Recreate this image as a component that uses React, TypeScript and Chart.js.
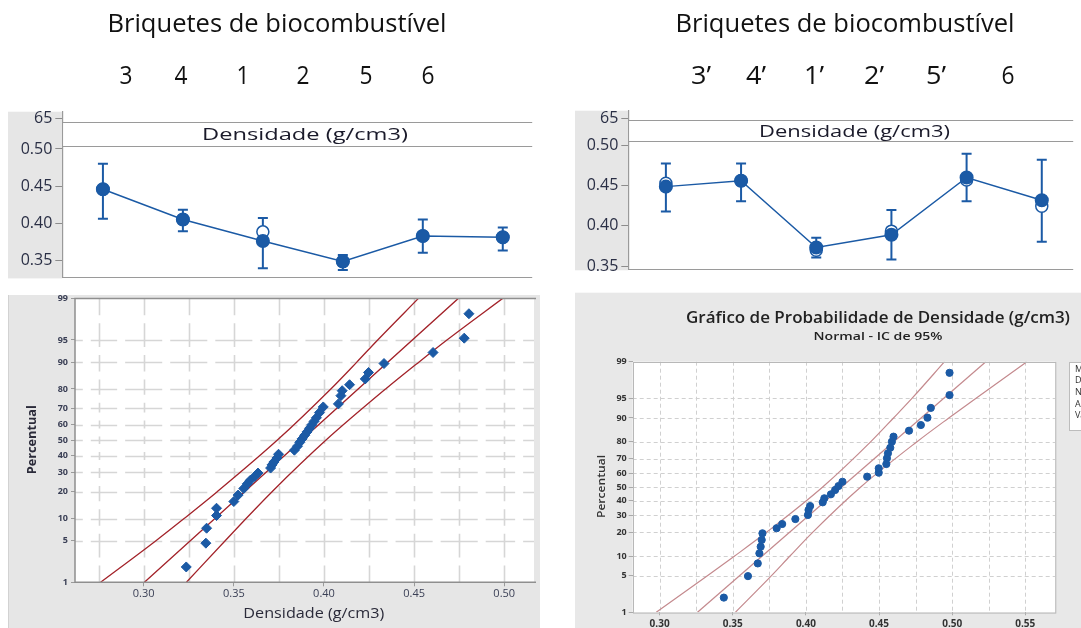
import React, { useEffect, useRef } from "react";
import { Chart, registerables } from "chart.js";
Chart.register(...registerables);

// ---------------- data ----------------
const pageTitle = "Briquetes de biocombustível";
const leftCategories = ["3", "4", "1", "2", "5", "6"];
const rightCategories = ["3’", "4’", "1’", "2’", "5’", "6"];
const intervalHeader = "Densidade (g/cm3)";
const intervalTicks = [0.35, 0.4, 0.45, 0.5];
const intervalTopTickLabel = "65";

const leftMeans = [0.4456, 0.4049, 0.376, 0.3483, 0.3826, 0.3809];
const leftOpen = [0.4456, 0.4049, 0.3883, 0.3483, 0.3826, 0.3809];
const leftLower = [0.4058, 0.389, 0.3391, 0.337, 0.36, 0.363];
const leftUpper = [0.4801, 0.4182, 0.407, 0.357, 0.405, 0.3943];

const rightMeans = [0.4488, 0.4562, 0.373, 0.3889, 0.4602, 0.4319];
const rightOpen = [0.453, 0.4562, 0.3697, 0.3934, 0.457, 0.4244];
const rightLower = [0.4177, 0.4305, 0.3607, 0.3582, 0.4305, 0.3803];
const rightUpper = [0.4775, 0.4775, 0.3852, 0.4198, 0.4898, 0.4824];

const percentTicks = [1, 5, 10, 20, 30, 40, 50, 60, 70, 80, 90, 95, 99];
const probXTitle = "Densidade (g/cm3)";
const probYTitle = "Percentual";

const probLeftXTicks = [0.3, 0.35, 0.4, 0.45, 0.5];
const probLeftDensity = [
  0.3236, 0.3345, 0.3349, 0.3404, 0.3404, 0.35, 0.3524, 0.3555, 0.3575, 0.3591,
  0.3617, 0.3634, 0.3704, 0.3712, 0.3722, 0.3739, 0.3748, 0.3836, 0.3853, 0.3866,
  0.3879, 0.3893, 0.3906, 0.392, 0.3932, 0.3945, 0.3958, 0.3975, 0.3996, 0.408,
  0.4094, 0.4101, 0.4142, 0.4229, 0.4247, 0.4333, 0.4605, 0.4778, 0.4804,
];
const probLeftPercent = [
  1.9, 4.6, 7.5, 10.9, 13.3, 15.8, 18.5, 21.5, 23.8, 25.6,
  27.8, 29.6, 32.5, 34.4, 36.1, 38.6, 41.0, 43.6, 46.2, 48.7,
  51.0, 53.3, 55.5, 57.8, 60.0, 62.2, 64.4, 67.5, 70.8, 72.5,
  76.8, 79.2, 81.9, 84.3, 86.7, 89.6, 92.5, 95.3, 98.1,
];
const probLeftFitDensity = [0.3004, 0.4745];
const probLeftFitPercent = [1, 99];
const probBandPercent = [1, 5, 10, 20, 50, 80, 90, 95, 99];
const probLeftUpperBand = [0.2761, 0.3068, 0.3224, 0.3408, 0.374, 0.4038, 0.4182, 0.4298, 0.4524];
const probLeftLowerBand = [0.3237, 0.3452, 0.3568, 0.3712, 0.401, 0.4342, 0.4526, 0.4682, 0.4991];

const probRightTitle = "Gráfico de Probabilidade de Densidade (g/cm3)";
const probRightSubtitle = "Normal - IC de 95%";
const probRightLegend = ["Média", "DesvPad", "N", "AD", "Valor-P"];
const probRightXTicks = [0.3, 0.35, 0.4, 0.45, 0.5, 0.55];
const probRightDensity = [
  0.3439, 0.3604, 0.3671, 0.3682, 0.3691, 0.3698, 0.3703, 0.38, 0.3838, 0.3928,
  0.4014, 0.4018, 0.4029, 0.4115, 0.4126, 0.4171, 0.42, 0.4223, 0.425, 0.4419,
  0.4498, 0.4498, 0.455, 0.4554, 0.4561, 0.4577, 0.4588, 0.4599, 0.4705, 0.4786,
  0.4831, 0.4854, 0.4982, 0.4982,
];
const probRightPercent = [
  2.0, 4.9, 7.8, 10.9, 13.4, 16.3, 19.5, 22.2, 24.6, 27.6,
  30.2, 33.5, 36.2, 38.8, 41.7, 44.6, 47.8, 50.7, 53.9, 57.6,
  60.5, 63.6, 66.5, 70.3, 73.4, 76.7, 80.0, 82.5, 85.2, 87.5,
  90.1, 92.9, 95.6, 98.3,
];
const probRightFitDensity = [0.3259, 0.523];
const probRightFitPercent = [1, 99];
const probRightUpperBand = [0.2977, 0.3329, 0.3513, 0.373, 0.4115, 0.4444, 0.4599, 0.4725, 0.4948];
const probRightLowerBand = [0.3518, 0.3765, 0.3891, 0.4046, 0.4375, 0.476, 0.4977, 0.5161, 0.5511];

// ---------------- helpers ----------------
const BLUE = "#1b5aa5";
const FONT = "'Open Sans', 'DejaVu Sans', sans-serif";

function probit(p: number): number {
  const a = [-39.69683028665376, 220.9460984245205, -275.9285104469687, 138.357751867269, -30.66479806614716, 2.506628277459239];
  const b = [-54.47609879822406, 161.5858368580409, -155.6989798598866, 66.80131188771972, -13.28068155288572];
  const c = [-0.007784894002430293, -0.3223964580411365, -2.400758277161838, -2.549671350024838, 4.374664141464968, 2.938163982698783];
  const d = [0.007784695709041462, 0.3224671290700398, 2.445134137142996, 3.754408661907416];
  const plow = 0.02425;
  if (p < plow) {
    const q = Math.sqrt(-2 * Math.log(p));
    return (((((c[0] * q + c[1]) * q + c[2]) * q + c[3]) * q + c[4]) * q + c[5]) / ((((d[0] * q + d[1]) * q + d[2]) * q + d[3]) * q + 1);
  }
  if (p > 1 - plow) {
    const q = Math.sqrt(-2 * Math.log(1 - p));
    return -(((((c[0] * q + c[1]) * q + c[2]) * q + c[3]) * q + c[4]) * q + c[5]) / ((((d[0] * q + d[1]) * q + d[2]) * q + d[3]) * q + 1);
  }
  const q = p - 0.5;
  const r = q * q;
  return ((((((a[0] * r + a[1]) * r + a[2]) * r + a[3]) * r + a[4]) * r + a[5]) * q) / (((((b[0] * r + b[1]) * r + b[2]) * r + b[3]) * r + b[4]) * r + 1);
}
const z = (pct: number) => probit(pct / 100);

function fitText(ctx: CanvasRenderingContext2D, text: string, cx: number, cy: number, targetW: number, font: string, color: string, rotate = false) {
  ctx.save();
  ctx.font = font;
  ctx.fillStyle = color;
  ctx.textAlign = "center";
  ctx.textBaseline = "middle";
  const w = ctx.measureText(text).width || 1;
  ctx.translate(cx, cy);
  if (rotate) ctx.rotate(-Math.PI / 2);
  ctx.scale(targetW / w, 1);
  ctx.fillText(text, 0, 0);
  ctx.restore();
}

// ---------------- interval (top) charts ----------------
interface IntervalOpts {
  categories: string[];
  catX: number[];
  means: number[];
  open: number[];
  lower: number[];
  upper: number[];
  xMin: number;
  xMax: number;
  yMin: number;
  yMax: number;
  topTick: number;
  bandTop: number;
  bandBottom: number;
  stripLeft: number;
  axisWidth: number;
  chartTop: number;
  bottomPad: number;
  headerX: number;
  headerW: number;
  titleX: number;
}

function intervalConfig(o: IntervalOpts): any {
  const plugin = {
    id: "intervalDeco",
    beforeDraw(chart: any) {
      const { ctx, chartArea } = chart;
      ctx.save();
      ctx.fillStyle = "#e6e6e6";
      ctx.fillRect(o.stripLeft, chartArea.top, chartArea.left - o.stripLeft, chartArea.bottom - chartArea.top + 1);
      ctx.restore();
      fitText(ctx, pageTitle, o.titleX, 25, 339, `26px ${FONT}`, "#111");
      o.categories.forEach((c, i) => {
        fitText(ctx, c, o.catX[i], 77, c.length > 1 ? 20 : 13, `26px ${FONT}`, "#111");
      });
    },
    beforeDatasetsDraw(chart: any) {
      const { ctx, scales } = chart;
      const x = scales.x;
      const y = scales.y;
      ctx.save();
      ctx.strokeStyle = BLUE;
      ctx.lineWidth = 2;
      o.means.forEach((_, i) => {
        const px = x.getPixelForValue(i);
        const yl = y.getPixelForValue(o.lower[i]);
        const yu = y.getPixelForValue(o.upper[i]);
        ctx.beginPath();
        ctx.moveTo(px, yl);
        ctx.lineTo(px, yu);
        ctx.moveTo(px - 5, yl);
        ctx.lineTo(px + 5, yl);
        ctx.moveTo(px - 5, yu);
        ctx.lineTo(px + 5, yu);
        ctx.stroke();
      });
      ctx.restore();
    },
    afterDraw(chart: any) {
      const { ctx, chartArea, scales } = chart;
      const y = scales.y;
      const yt = Math.round(y.getPixelForValue(o.bandTop)) + 0.5;
      const yb = Math.round(y.getPixelForValue(o.bandBottom)) + 0.5;
      ctx.save();
      ctx.fillStyle = "#ffffff";
      ctx.fillRect(chartArea.left + 1, yt, chartArea.right - chartArea.left, yb - yt);
      ctx.strokeStyle = "#9a9a9a";
      ctx.lineWidth = 1.2;
      ctx.beginPath();
      ctx.moveTo(chartArea.left, yt);
      ctx.lineTo(chartArea.right, yt);
      ctx.moveTo(chartArea.left, yb);
      ctx.lineTo(chartArea.right, yb);
      ctx.moveTo(chartArea.left, Math.round(chartArea.bottom) + 0.5);
      ctx.lineTo(chartArea.right, Math.round(chartArea.bottom) + 0.5);
      ctx.stroke();
      ctx.restore();
      fitText(ctx, intervalHeader, o.headerX, (yt + yb) / 2 + 1, o.headerW, `500 17px ${FONT}`, "#1a1a2a");
    },
  };

  return {
    type: "scatter",
    data: {
      datasets: [
        {
          data: o.means.map((v, i) => ({ x: i, y: v })),
          showLine: true,
          borderColor: BLUE,
          borderWidth: 1.5,
          pointRadius: 6.3,
          pointBackgroundColor: BLUE,
          pointBorderColor: BLUE,
          order: 0,
        },
        {
          data: o.open.map((v, i) => ({ x: i, y: v })),
          showLine: false,
          pointRadius: 6,
          pointBackgroundColor: "#ffffff",
          pointBorderColor: BLUE,
          pointBorderWidth: 1.5,
          order: 1,
        },
      ],
    },
    options: {
      responsive: false,
      animation: false,
      devicePixelRatio: 1,
      layout: { padding: { left: o.stripLeft, top: o.chartTop, right: 0, bottom: o.bottomPad } },
      plugins: { legend: { display: false }, tooltip: { enabled: false }, title: { display: false } },
      scales: {
        x: { type: "linear", min: o.xMin, max: o.xMax, display: false },
        y: {
          type: "linear",
          min: o.yMin,
          max: o.yMax,
          afterBuildTicks: (s: any) => {
            s.ticks = [...intervalTicks, o.topTick].map((v) => ({ value: v }));
          },
          afterFit: (s: any) => {
            s.width = o.axisWidth;
          },
          ticks: {
            autoSkip: false,
            padding: 3,
            color: "#2a2f45",
            font: { family: FONT, size: 16 },
            callback: (v: number) => (Math.abs(v - o.topTick) < 1e-6 ? intervalTopTickLabel : v.toFixed(2)),
          },
          grid: { drawOnChartArea: false, drawTicks: true, tickLength: 7, color: "#8c8c8c" },
          border: { display: true, color: "#9a9a9a", width: 1.2 },
        },
      },
    },
    plugins: [plugin],
  };
}

// ---------------- probability (bottom) charts ----------------
function bandDataset(xs: number[], pcts: number[], color: string, width: number): any {
  return {
    data: xs.map((v, i) => ({ x: v, y: z(pcts[i]) })),
    showLine: true,
    pointRadius: 0,
    borderColor: color,
    borderWidth: width,
    cubicInterpolationMode: "monotone",
    order: 1,
  };
}

function probLeftConfig(): any {
  const plugin = {
    id: "probLeftDeco",
    beforeDraw(chart: any) {
      const { ctx, chartArea, width, height } = chart;
      ctx.save();
      ctx.fillStyle = "#e6e6e6";
      ctx.fillRect(8, 5, width - 8, height - 5);
      ctx.fillStyle = "#d2d2d2";
      ctx.fillRect(8, 5, 1, height - 5);
      ctx.fillStyle = "#ffffff";
      ctx.fillRect(chartArea.left, chartArea.top, chartArea.right - chartArea.left, chartArea.bottom - chartArea.top);
      const xs: number[] = [];
      for (let v = 0.275; v <= 0.5001; v += 0.025) xs.push(chart.scales.x.getPixelForValue(v));
      const ys = percentTicks.slice(1, -1).map((p) => chart.scales.y.getPixelForValue(z(p)));
      const gap = 4;
      ctx.strokeStyle = "#d6d6d6";
      ctx.lineWidth = 1.6;
      ctx.beginPath();
      const yb = [chartArea.top, ...ys.slice().sort((a, b) => a - b), chartArea.bottom];
      const yMid = [chartArea.top];
      for (let i = 0; i < yb.length - 1; i++) yMid.push((yb[i] + yb[i + 1]) / 2);
      yMid.push(chartArea.bottom);
      xs.forEach((px) => {
        for (let i = 0; i < yMid.length - 1; i++) {
          const a = yMid[i] + (i === 0 ? 0 : gap);
          const b = yMid[i + 1] - (i === yMid.length - 2 ? 0 : gap);
          if (b > a) {
            ctx.moveTo(Math.round(px) + 0.5, a);
            ctx.lineTo(Math.round(px) + 0.5, b);
          }
        }
      });
      const xb = [chartArea.left, ...xs, chartArea.right];
      const xMid = [chartArea.left];
      for (let i = 0; i < xb.length - 1; i++) xMid.push((xb[i] + xb[i + 1]) / 2);
      xMid.push(chartArea.right);
      ys.forEach((py) => {
        for (let i = 0; i < xMid.length - 1; i++) {
          const a = xMid[i] + (i === 0 ? 0 : gap);
          const b = xMid[i + 1] - (i === xMid.length - 2 ? 0 : gap);
          if (b > a) {
            ctx.moveTo(a, Math.round(py) + 0.5);
            ctx.lineTo(b, Math.round(py) + 0.5);
          }
        }
      });
      ctx.stroke();
      ctx.restore();
    },
    afterDraw(chart: any) {
      const { ctx, chartArea } = chart;
      ctx.save();
      ctx.strokeStyle = "#8f8f8f";
      ctx.lineWidth = 1.5;
      ctx.beginPath();
      ctx.moveTo(chartArea.right + 2, chartArea.top);
      ctx.lineTo(chartArea.left, chartArea.top);
      ctx.lineTo(chartArea.left, chartArea.bottom);
      ctx.lineTo(chartArea.right + 2, chartArea.bottom);
      ctx.stroke();
      ctx.restore();
      fitText(ctx, probXTitle, 313.8, 324, 141, `500 14px ${FONT}`, "#2b2b3a");
      fitText(ctx, probYTitle, 33, 149.7, 69, `bold 12px ${FONT}`, "#2b2b3a", true);
    },
  };
  const red = "#a3232a";
  return {
    type: "scatter",
    data: {
      datasets: [
        {
          data: probLeftDensity.map((v, i) => ({ x: v, y: z(probLeftPercent[i]) })),
          showLine: false,
          pointStyle: "rectRot",
          pointRadius: 5,
          pointBackgroundColor: BLUE,
          pointBorderColor: BLUE,
          order: 0,
        },
        bandDataset(probLeftFitDensity, probLeftFitPercent, red, 1.3),
        bandDataset(probLeftUpperBand, probBandPercent, red, 1.3),
        bandDataset(probLeftLowerBand, probBandPercent, red, 1.3),
      ],
    },
    options: {
      responsive: false,
      animation: false,
      devicePixelRatio: 1,
      layout: { padding: { left: 8, top: 7.5, right: 0, bottom: 0 } },
      plugins: { legend: { display: false }, tooltip: { enabled: false }, title: { display: false } },
      scales: {
        x: {
          type: "linear",
          min: 0.2619,
          max: 0.5165,
          afterBuildTicks: (s: any) => {
            s.ticks = probLeftXTicks.map((v) => ({ value: v }));
          },
          afterFit: (s: any) => {
            s.height = 45.7;
          },
          ticks: { autoSkip: false, maxRotation: 0, padding: 1, color: "#3a3f55", font: { family: FONT, size: 11 }, callback: (v: number) => v.toFixed(2) },
          grid: { drawOnChartArea: false, drawTicks: true, tickLength: 4, color: "#9a9a9a" },
          border: { display: false },
        },
        y: {
          type: "linear",
          min: z(1),
          max: z(99),
          afterBuildTicks: (s: any) => {
            s.ticks = percentTicks.map((p) => ({ value: z(p) }));
          },
          afterFit: (s: any) => {
            s.width = 67;
          },
          ticks: { autoSkip: false, padding: 3, color: "#3a3f55", font: { family: FONT, size: 9, weight: "bold" }, callback: (_v: number, i: number) => String(percentTicks[i]) },
          grid: { drawOnChartArea: false, drawTicks: true, tickLength: 4, color: "#9a9a9a" },
          border: { display: false },
        },
      },
    },
    plugins: [plugin],
  };
}

function probRightConfig(): any {
  const plugin = {
    id: "probRightDeco",
    beforeDraw(chart: any) {
      const { ctx, chartArea, width, height } = chart;
      ctx.save();
      ctx.fillStyle = "#e8e8e8";
      ctx.fillRect(35, 2.7, width - 35, height);
      ctx.fillStyle = "#ffffff";
      ctx.fillRect(chartArea.left, chartArea.top, chartArea.right - chartArea.left, chartArea.bottom - chartArea.top);
      ctx.strokeStyle = "#d0d0d0";
      ctx.lineWidth = 1;
      ctx.setLineDash([4, 3]);
      ctx.beginPath();
      for (let v = 0.3; v <= 0.5501; v += 0.025) {
        const px = Math.round(chart.scales.x.getPixelForValue(v)) + 0.5;
        ctx.moveTo(px, chartArea.top);
        ctx.lineTo(px, chartArea.bottom);
      }
      percentTicks.slice(1, -1).forEach((p) => {
        const py = Math.round(chart.scales.y.getPixelForValue(z(p))) + 0.5;
        ctx.moveTo(chartArea.left, py);
        ctx.lineTo(chartArea.right, py);
      });
      ctx.stroke();
      ctx.restore();
    },
    afterDraw(chart: any) {
      const { ctx, chartArea } = chart;
      ctx.save();
      ctx.strokeStyle = "#b8b8b8";
      ctx.lineWidth = 1;
      ctx.strokeRect(Math.round(chartArea.left) + 0.5, Math.round(chartArea.top) + 0.5, chartArea.right - chartArea.left, chartArea.bottom - chartArea.top);
      ctx.fillStyle = "#ffffff";
      ctx.fillRect(529.5, 72, 30, 68);
      ctx.strokeStyle = "#bcbcbc";
      ctx.strokeRect(529.5, 72.5, 30, 68);
      ctx.fillStyle = "#333";
      ctx.font = `9px ${FONT}`;
      ctx.textAlign = "left";
      ctx.textBaseline = "middle";
      probRightLegend.forEach((t, i) => ctx.fillText(t, 535, 79 + i * 11.7));
      ctx.restore();
      fitText(ctx, probRightTitle, 338, 28.3, 384, `600 16px ${FONT}`, "#222");
      fitText(ctx, probRightSubtitle, 338, 46.7, 129, `600 11px ${FONT}`, "#222");
      fitText(ctx, probYTitle, 61.7, 196.5, 63, `600 11px ${FONT}`, "#333", true);
    },
  };
  const lineColor = "#c48a8e";
  return {
    type: "scatter",
    data: {
      datasets: [
        {
          data: probRightDensity.map((v, i) => ({ x: v, y: z(probRightPercent[i]) })),
          showLine: false,
          pointRadius: 3.6,
          pointBackgroundColor: BLUE,
          pointBorderColor: BLUE,
          order: 0,
        },
        bandDataset(probRightFitDensity, probRightFitPercent, lineColor, 1.2),
        bandDataset(probRightUpperBand, probBandPercent, lineColor, 1.2),
        bandDataset(probRightLowerBand, probBandPercent, lineColor, 1.2),
      ],
    },
    options: {
      responsive: false,
      animation: false,
      devicePixelRatio: 1,
      layout: { padding: { left: 35, top: 71.7, right: 26, bottom: 0 } },
      plugins: { legend: { display: false }, tooltip: { enabled: false }, title: { display: false } },
      scales: {
        x: {
          type: "linear",
          min: 0.2816,
          max: 0.5703,
          afterBuildTicks: (s: any) => {
            s.ticks = probRightXTicks.map((v) => ({ value: v }));
          },
          afterFit: (s: any) => {
            s.height = 15.7;
          },
          ticks: { autoSkip: false, maxRotation: 0, padding: 3, color: "#333", font: { family: FONT, size: 10, weight: "bold" }, callback: (v: number) => v.toFixed(2) },
          grid: { drawOnChartArea: false, drawTicks: true, tickLength: 3, color: "#aaa" },
          border: { display: false },
        },
        y: {
          type: "linear",
          min: z(1),
          max: z(99),
          afterBuildTicks: (s: any) => {
            s.ticks = percentTicks.map((p) => ({ value: z(p) }));
          },
          afterFit: (s: any) => {
            s.width = 57.7;
          },
          ticks: { autoSkip: false, padding: 2, color: "#333", font: { family: FONT, size: 9, weight: "bold" }, callback: (_v: number, i: number) => String(percentTicks[i]) },
          grid: { drawOnChartArea: false, drawTicks: true, tickLength: 4, color: "#aaa" },
          border: { display: false },
        },
      },
    },
    plugins: [plugin],
  };
}

// ---------------- components ----------------
function ChartCanvas(props: { make: () => any; left: number; top: number; width: number; height: number }) {
  const ref = useRef<HTMLCanvasElement>(null);
  useEffect(() => {
    const chart = new Chart(ref.current as HTMLCanvasElement, props.make());
    return () => chart.destroy();
  }, []);
  return (
    <canvas
      ref={ref}
      width={props.width}
      height={props.height}
      style={{ position: "absolute", left: props.left, top: props.top, width: props.width, height: props.height, display: "block" }}
    />
  );
}

export default function App() {
  return (
    <div style={{ position: "absolute", left: 0, top: 0, width: 1081, height: 628, overflow: "hidden", background: "#fff" }}>
      <ChartCanvas
        left={0}
        top={0}
        width={540}
        height={290}
        make={() =>
          intervalConfig({
            categories: leftCategories,
            catX: [126, 181, 243, 303, 366, 428],
            means: leftMeans,
            open: leftOpen,
            lower: leftLower,
            upper: leftUpper,
            xMin: -0.508,
            xMax: 5.368,
            yMin: 0.3269,
            yMax: 0.5502,
            topTick: 0.5414,
            bandTop: 0.5368,
            bandBottom: 0.5035,
            stripLeft: 8,
            axisWidth: 54.3,
            chartTop: 111.7,
            bottomPad: 11,
            headerX: 305,
            headerW: 206,
            titleX: 277,
          })
        }
      />
      <ChartCanvas
        left={540}
        top={0}
        width={541}
        height={290}
        make={() =>
          intervalConfig({
            categories: rightCategories,
            catX: [161, 216, 274, 334, 396, 468],
            means: rightMeans,
            open: rightOpen,
            lower: rightLower,
            upper: rightUpper,
            xMin: -0.5,
            xMax: 5.418,
            yMin: 0.3459,
            yMax: 0.5433,
            topTick: 0.5342,
            bandTop: 0.5322,
            bandBottom: 0.505,
            stripLeft: 35,
            axisWidth: 53.3,
            chartTop: 110.7,
            bottomPad: 20.7,
            headerX: 314.5,
            headerW: 191,
            titleX: 305,
          })
        }
      />
      <ChartCanvas left={0} top={290} width={540} height={338} make={probLeftConfig} />
      <ChartCanvas left={540} top={290} width={541} height={338} make={probRightConfig} />
    </div>
  );
}
